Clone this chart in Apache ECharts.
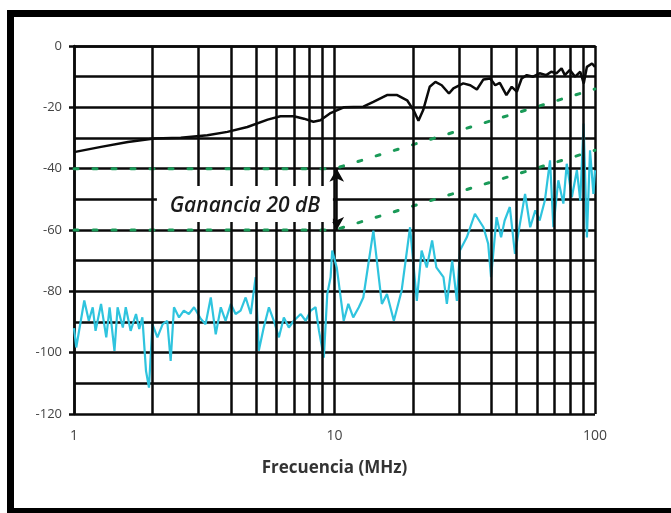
<!DOCTYPE html>
<html>
<head>
<meta charset="utf-8">
<script src="https://cdn.jsdelivr.net/npm/echarts@6/dist/echarts.min.js"></script>
<style>
html,body{margin:0;padding:0;background:#fff;}
#chart{width:671px;height:513px;}
</style>
</head>
<body>
<div id="chart"></div>
<script>
// Frequencies (MHz) and levels (dB)
var blackFreq = [1, 1.27, 1.61, 2.03, 2.57, 3.25, 3.88, 4.63, 5.54, 6.2, 6.98, 7.63, 8.3, 8.83, 9.6, 10.85, 12.9, 14.1, 15.9, 17.4, 19.0, 20.1, 21.0, 21.9, 23.2, 24.4, 25.8, 27.5, 28.6, 31.2, 33.2, 35.2, 37.3, 39.6, 41.4, 43.1, 45.7, 47.9, 50.1, 52.3, 54.7, 57.9, 61.3, 65, 67.9, 71.1, 74.4, 76.6, 80.1, 83.9, 87.8, 90.5, 93.1, 97.4, 100];
var blackLevel = [-34.6, -32.9, -31.3, -30.2, -29.9, -29.1, -28, -26.4, -24, -22.9, -22.9, -23.7, -24.7, -24.2, -22.0, -20, -19.8, -18.2, -16, -16, -17.7, -20.9, -24.4, -20.9, -13.3, -11.7, -12.8, -15.5, -13.8, -12.2, -12.8, -14.2, -10.9, -10.6, -12.8, -12, -16, -13.3, -14.9, -10.6, -9.5, -10, -8.9, -9.5, -8.4, -8.9, -7.3, -9.5, -7.8, -10, -8.4, -12.2, -6.8, -5.7, -6.8];

var cyanFreq = [1.0, 1.02, 1.095, 1.14, 1.18, 1.21, 1.27, 1.33, 1.37, 1.43, 1.47, 1.54, 1.58, 1.65, 1.73, 1.78, 1.83, 1.89, 1.94, 2.0, 2.09, 2.19, 2.28, 2.35, 2.42, 2.53, 2.64, 2.76, 2.89, 3.07, 3.2, 3.35, 3.5, 3.66, 3.82, 4.0, 4.17, 4.36, 4.56, 4.77, 4.98, 5.12, 5.35, 5.6, 5.85, 6.12, 6.39, 6.68, 6.98, 7.42, 7.75, 8.1, 8.46, 8.72, 9.1, 9.38, 9.66, 9.8, 10.2, 10.85, 11.3, 11.8, 12.4, 12.9, 14.1, 15.2, 15.9, 16.9, 18.1, 19.5, 20.7, 21.6, 22.6, 23.7, 24.6, 26.2, 27.0, 28.3, 29.5, 30.3, 32.2, 34.6, 37.3, 38.9, 39.9, 41.9, 43.6, 45, 47.1, 49.3, 51.5, 53.9, 56.4, 59, 61.3, 64.2, 67.2, 69.2, 72.3, 75.6, 77.9, 81.5, 85.2, 87.8, 90.4, 93.1, 95.7, 98.6, 100];
var cyanLevel = [-92, -98.3, -83, -89.6, -85.2, -92.9, -84.1, -95, -85.2, -99.4, -85.2, -91.8, -85.2, -92.9, -87.4, -92.3, -88.5, -106, -111.4, -90.7, -95, -90.7, -89.6, -102.7, -85.2, -88.5, -86.3, -87.4, -85.2, -89, -90.7, -82, -94, -85.2, -89.6, -84.1, -87.4, -86.3, -82, -87.4, -75.4, -99.4, -91.8, -85.2, -89.6, -95, -88.5, -91.8, -89.6, -87.4, -89.6, -86.3, -85.2, -92.9, -101.6, -80.9, -75.4, -66.7, -72.2, -89.6, -84.1, -88.5, -85.2, -82, -60.2, -84.1, -80.9, -89.6, -79.8, -59.1, -83.1, -66.7, -72.2, -63.4, -72.2, -75.4, -84.1, -70, -83.1, -66.7, -62.4, -54.7, -59.1, -64.5, -75.4, -55.8, -62.4, -56.9, -52.5, -67.8, -58, -48.2, -59.1, -53.6, -56.9, -50.4, -37.3, -59.1, -43.8, -51.4, -38.4, -49.3, -40.5, -50.4, -25.3, -62.4, -34, -48.2, -40.5];

var limitFreq = [1, 10, 100];
var limitUpper = [-40, -40, -14];
var limitLower = [-60, -60, -34];

var minorFreqs = [2, 3, 4, 5, 6, 7, 8, 9, 20, 30, 40, 50, 60, 70, 80, 90];
var yTickLabels = [0, -20, -40, -60, -80, -100, -120];

var gainText = 'Ganancia 20 dB';
var gainArrowFreq = 10.2;
var gainTextPos = [4.53, -51.5];
var xTitle = 'Frecuencia (MHz)';

function zip(a, b) { return a.map(function (v, i) { return [v, b[i]]; }); }

var chart = echarts.init(document.getElementById('chart'), null, { renderer: 'canvas' });

var gridLine = { color: '#0a0a0a', width: 2.5 };

chart.setOption({
  animation: false,
  backgroundColor: '#fff',
  graphic: [
    { type: 'rect', shape: { x: 7, y: 10, width: 664, height: 7 }, style: { fill: '#000' } },
    { type: 'rect', shape: { x: 7, y: 10, width: 7, height: 503 }, style: { fill: '#000' } },
    { type: 'rect', shape: { x: 7, y: 508, width: 664, height: 5 }, style: { fill: '#000' } }
  ],
  grid: { left: 74, top: 46, right: 76, bottom: 99, containLabel: false, outerBoundsMode: 'none' },
  xAxis: {
    type: 'log', logBase: 10, min: 1, max: 100,
    name: xTitle, nameLocation: 'middle', nameGap: 46,
    nameTextStyle: { fontFamily: 'Open Sans', fontWeight: 'bold', fontSize: 17, color: '#333' },
    axisLine: { show: true, lineStyle: gridLine },
    axisTick: { show: false },
    minorTick: { show: false },
    axisLabel: { fontFamily: 'Open Sans', fontSize: 14, color: '#444', margin: 15,
      formatter: function (v) { return String(v); } },
    splitLine: { show: true, lineStyle: gridLine }
  },
  yAxis: {
    type: 'value', min: -120, max: 0, interval: 20,
    axisLine: { show: true, onZero: false, lineStyle: gridLine },
    axisTick: { show: true, length: 5, lineStyle: gridLine },
    minorTick: { show: false, splitNumber: 2 },
    minorSplitLine: { show: true, lineStyle: gridLine },
    axisLabel: { fontFamily: 'Open Sans', fontSize: 13, color: '#444', margin: 12,
      formatter: function (v) { return yTickLabels.indexOf(v) >= 0 ? String(v) : ''; } },
    splitLine: { show: true, lineStyle: gridLine }
  },
  series: [
    {
      type: 'line', data: [], z: 1, silent: true,
      markLine: {
        silent: true, symbol: 'none', animation: false,
        label: { show: false },
        lineStyle: { type: 'solid', color: '#0a0a0a', width: 2.5 },
        data: minorFreqs.map(function (f) { return { xAxis: f }; })
      }
    },
    {
      type: 'line', data: zip(limitFreq, limitUpper), z: 3, symbol: 'none',
      lineStyle: { color: '#1a9a58', width: 3, type: [4, 15], cap: 'round' }
    },
    {
      type: 'line', data: zip(limitFreq, limitLower), z: 3, symbol: 'none',
      lineStyle: { color: '#1a9a58', width: 3, type: [4, 15], cap: 'round' }
    },
    {
      type: 'line', data: zip(cyanFreq, cyanLevel), z: 4, symbol: 'none',
      lineStyle: { color: '#2fc4de', width: 2.2 }
    },
    {
      type: 'line', data: zip(blackFreq, blackLevel), z: 5, symbol: 'none',
      lineStyle: { color: '#0a0a0a', width: 2.5 },
      markLine: {
        silent: true, animation: false,
        symbol: ['arrow', 'arrow'], symbolSize: [11, 13],
        label: { show: false },
        lineStyle: { type: 'solid', color: '#0a0a0a', width: 2.5 },
        data: [[{ coord: [gainArrowFreq, -40] }, { coord: [gainArrowFreq, -60] }]]
      },
      markPoint: {
        silent: true, animation: false,
        symbol: 'rect', symbolSize: [176, 36],
        itemStyle: { color: '#fff' },
        label: { show: true, position: 'inside', offset: [0, 2],
          fontFamily: 'Open Sans', fontStyle: 'italic', fontWeight: 600, fontSize: 21, color: '#1a1a1a',
          formatter: function () { return gainText; } },
        data: [{ coord: gainTextPos }]
      }
    }
  ]
});
</script>
</body>
</html>
